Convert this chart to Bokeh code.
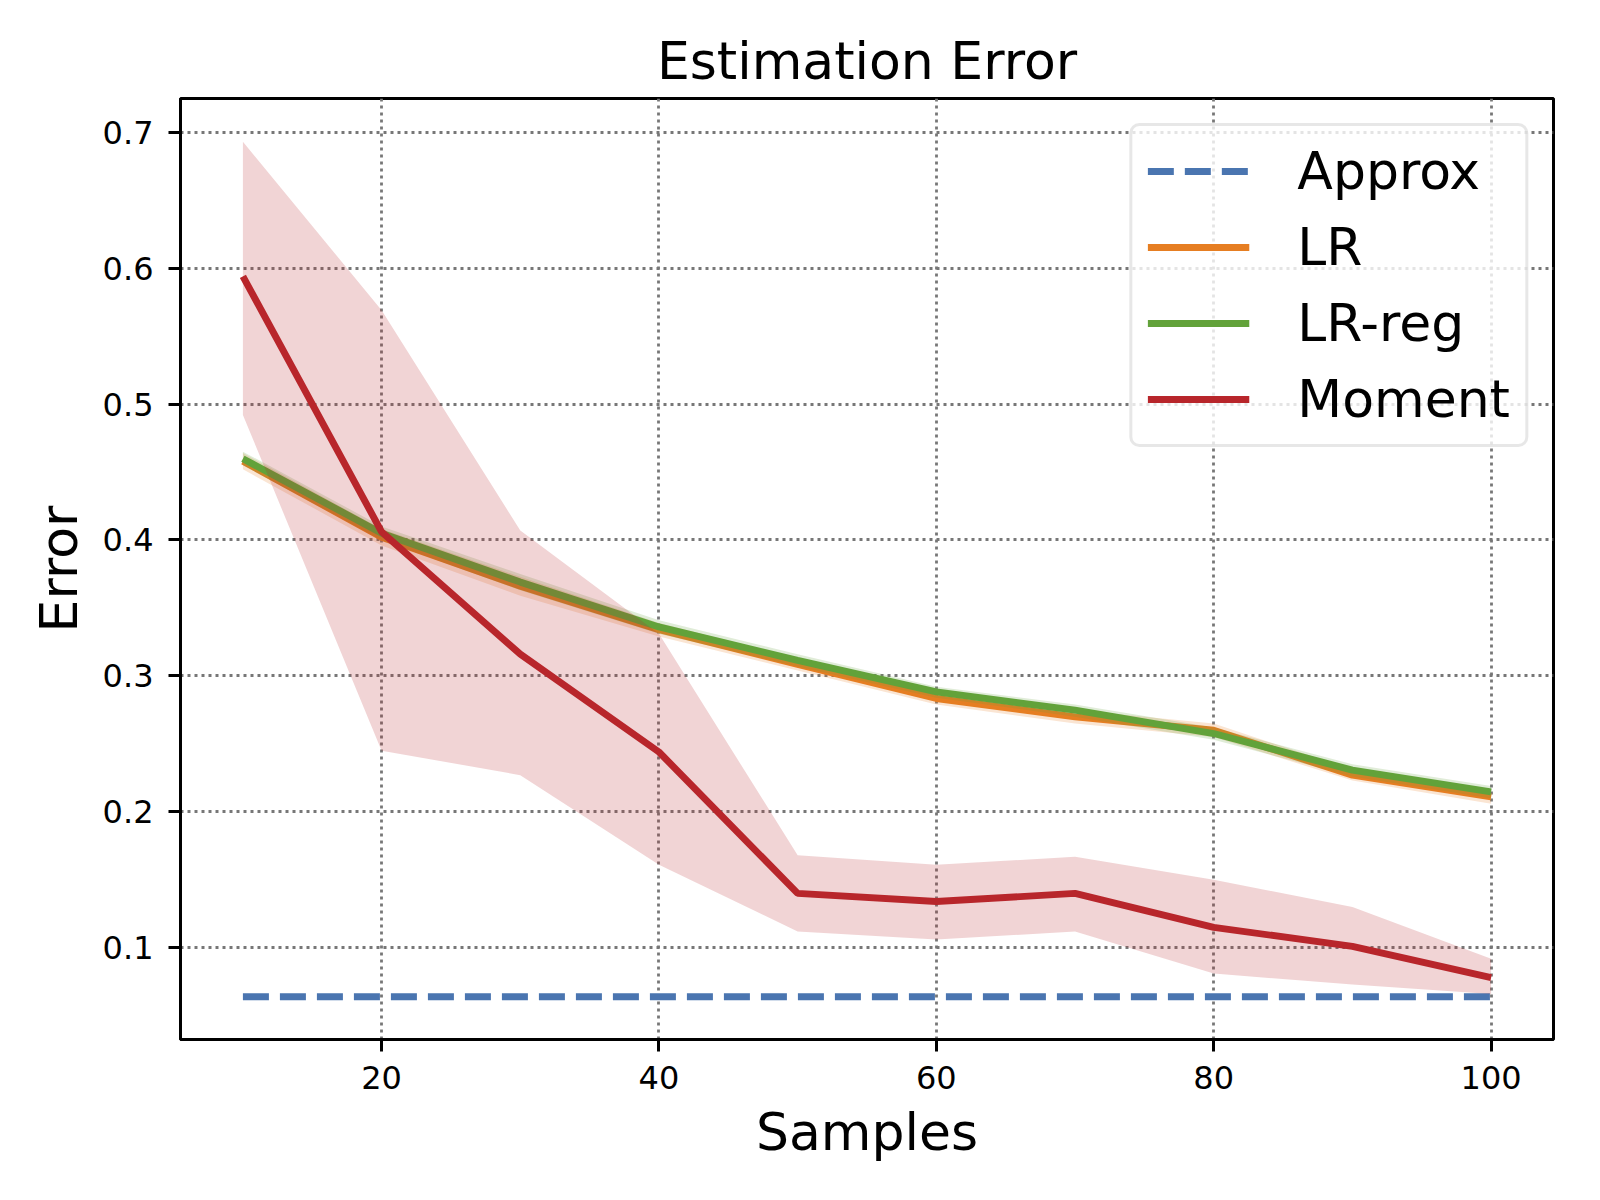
from bokeh.plotting import figure
from bokeh.models import Range1d, FixedTicker, Legend, LegendItem, ColumnDataSource
from bokeh.embed import file_html
from bokeh.resources import INLINE

# ---- data ----
samples = [10, 20, 30, 40, 50, 60, 70, 80, 90, 100]
approx = [0.064, 0.064, 0.064, 0.064, 0.064, 0.064, 0.064, 0.064, 0.064, 0.064]

lr = [0.458, 0.402, 0.366, 0.334, 0.3085, 0.2834, 0.2699, 0.260, 0.227, 0.211]
lr_lo = [0.452, 0.396, 0.359, 0.329, 0.304, 0.279, 0.265, 0.255, 0.223, 0.206]
lr_hi = [0.464, 0.408, 0.373, 0.339, 0.313, 0.288, 0.275, 0.265, 0.231, 0.216]

lrreg = [0.4598, 0.405, 0.369, 0.336, 0.3115, 0.2882, 0.2748, 0.2576, 0.2307, 0.2147]
lrreg_lo = [0.455, 0.400, 0.363, 0.331, 0.307, 0.284, 0.270, 0.253, 0.226, 0.210]
lrreg_hi = [0.465, 0.410, 0.375, 0.341, 0.316, 0.292, 0.279, 0.262, 0.235, 0.219]

moment = [0.594, 0.406, 0.316, 0.244, 0.140, 0.134, 0.140, 0.115, 0.101, 0.078]
moment_lo = [0.492, 0.245, 0.227, 0.161, 0.112, 0.106, 0.112, 0.081, 0.073, 0.066]
moment_hi = [0.693, 0.569, 0.407, 0.331, 0.168, 0.161, 0.167, 0.150, 0.130, 0.092]

x_ticks = [20, 40, 60, 80, 100]
y_ticks = [0.1, 0.2, 0.3, 0.4, 0.5, 0.6, 0.7]

# ---- style ----
BLUE = "#4A75B0"
ORANGE = "#E67E22"
GREEN = "#62A23A"
RED = "#B8262B"
FONT = "DejaVu Sans"
LW = 6.9

src = ColumnDataSource(dict(x=samples, approx=approx, lr=lr, lr_lo=lr_lo, lr_hi=lr_hi,
                            lrreg=lrreg, lrreg_lo=lrreg_lo, lrreg_hi=lrreg_hi,
                            moment=moment, moment_lo=moment_lo, moment_hi=moment_hi))

p = figure(frame_width=1373, frame_height=941, output_backend="svg", toolbar_location=None,
           x_range=Range1d(5.5, 104.5), y_range=Range1d(0.0325, 0.7248),
           min_border_left=180, min_border_top=98, min_border_right=31, min_border_bottom=145,
           title="Estimation Error")
p.background_fill_color = "white"
p.border_fill_color = "white"
p.outline_line_color = "black"
p.outline_line_width = 3
p.outline_line_alpha = 1

p.title.text_font = FONT
p.title.text_font_size = "52px"
p.title.text_font_style = "normal"
p.title.align = "center"
p.title.text_color = "black"
p.title.standoff = 16

for ax in (p.xaxis[0], p.yaxis[0]):
    ax.axis_line_width = 3
    ax.axis_line_color = "black"
    ax.major_tick_line_width = 3
    ax.major_tick_out = 12
    ax.major_tick_in = 0
    ax.minor_tick_line_color = None
    ax.major_label_text_font = FONT
    ax.major_label_text_font_size = "32px"
    ax.major_label_text_color = "black"
    ax.axis_label_text_font = FONT
    ax.axis_label_text_font_size = "52px"
    ax.axis_label_text_font_style = "normal"
    ax.axis_label_text_color = "black"

p.xaxis.ticker = FixedTicker(ticks=x_ticks)
p.yaxis.ticker = FixedTicker(ticks=y_ticks)
p.xaxis.axis_label = "Samples"
p.yaxis.axis_label = "Error"
p.xaxis.major_label_standoff = 14
p.yaxis.major_label_standoff = 15
p.xaxis.axis_label_standoff = 10
p.yaxis.axis_label_standoff = 11

for g in (p.xgrid[0], p.ygrid[0]):
    g.grid_line_color = "#777777"
    g.grid_line_width = 2.8
    g.grid_line_dash = "3 4"
p.xgrid.ticker = FixedTicker(ticks=x_ticks)
p.ygrid.ticker = FixedTicker(ticks=y_ticks)

# ---- glyphs ----
r_approx = p.line("x", "approx", source=src, color=BLUE, line_width=LW, line_dash="26 11")

p.varea(x="x", y1="lr_lo", y2="lr_hi", source=src, fill_color=ORANGE, fill_alpha=0.2)
r_lr = p.line("x", "lr", source=src, color=ORANGE, line_width=LW)

p.varea(x="x", y1="lrreg_lo", y2="lrreg_hi", source=src, fill_color=GREEN, fill_alpha=0.2)
r_lrreg = p.line("x", "lrreg", source=src, color=GREEN, line_width=LW)

p.varea(x="x", y1="moment_lo", y2="moment_hi", source=src, fill_color=RED, fill_alpha=0.2)
r_moment = p.line("x", "moment", source=src, color=RED, line_width=LW)

legend = Legend(items=[
    LegendItem(label="Approx", renderers=[r_approx]),
    LegendItem(label="LR", renderers=[r_lr]),
    LegendItem(label="LR-reg", renderers=[r_lrreg]),
    LegendItem(label="Moment", renderers=[r_moment]),
], location="top_right")
legend.margin = 25
legend.padding = 15
legend.spacing = 16
legend.glyph_width = 102
legend.glyph_height = 60
legend.label_standoff = 48
legend.label_text_font = FONT
legend.label_text_font_size = "52px"
legend.label_text_color = "black"
legend.border_line_color = "#d0d0d0"
legend.border_line_width = 3
legend.background_fill_color = "white"
legend.background_fill_alpha = 0.8
legend.border_radius = 10
p.add_layout(legend, "center")

open("out.html", "w").write(file_html(p, INLINE))
